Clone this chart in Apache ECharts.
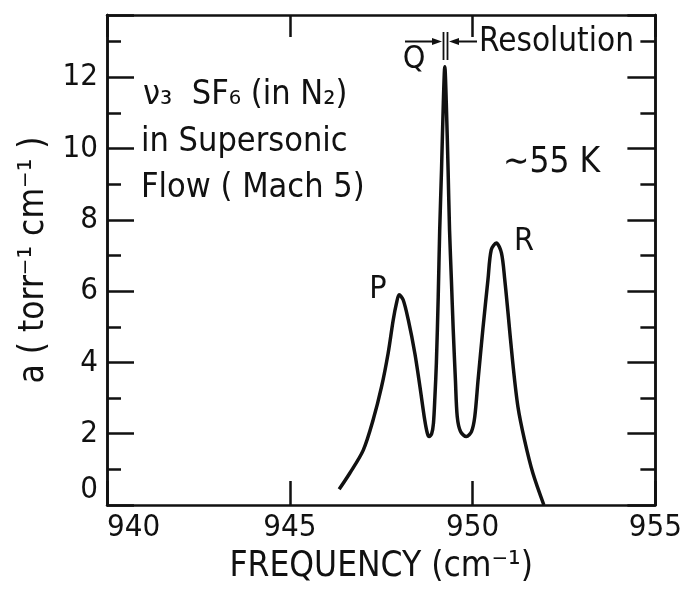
<!DOCTYPE html>
<html>
<head>
<meta charset="utf-8">
<script src="https://cdn.jsdelivr.net/npm/echarts@6/dist/echarts.min.js"></script>
<style>
  html, body { margin: 0; padding: 0; background: #fff; }
  #chart { width: 685px; height: 590px; }
</style>
</head>
<body>
<div id="chart"></div>
<script>
// frequency (cm-1) and absorption a (torr-1 cm-1)
const freq = [
  946.35, 946.64, 947.01, 947.28, 947.51, 947.69, 947.83, 947.92, 947.99, 948.10,
  948.24, 948.42, 948.56, 948.69, 948.76, 948.81, 948.88, 948.93, 948.97, 949.01,
  949.06, 949.10, 949.15, 949.20, 949.24, 949.28, 949.33, 949.37, 949.42, 949.47,
  949.53, 949.58, 949.67, 949.83, 949.97, 950.06, 950.15, 950.28, 950.42, 950.51,
  950.65, 950.79, 950.88, 950.97, 951.10, 951.24, 951.42, 951.65, 951.95
]
const absorb = [
  0.44, 0.89, 1.54, 2.39, 3.32, 4.26, 5.20, 5.67, 5.90, 5.76,
  5.20, 4.26, 3.32, 2.39, 2.02, 1.92, 2.00, 2.30, 3.05, 4.00,
  5.85, 7.70, 9.40, 11.3, 12.3, 11.3, 9.40, 7.70, 6.32, 4.92,
  3.51, 2.48, 2.06, 1.92, 2.06, 2.48, 3.51, 4.92, 6.32, 7.16,
  7.35, 7.07, 6.32, 5.38, 3.98, 2.76, 1.83, 0.89, 0.00
]
const xTicks = [940, 945, 950, 955]
const yLabels = [0, 2, 4, 6, 8, 10, 12]

const FONT = '"DejaVu Sans Condensed", "Liberation Sans Narrow", sans-serif'
const INK = '#111'

const chart = echarts.init(document.getElementById('chart'), null, { renderer: 'canvas' })

// y axes: one for long (even) ticks + labels, one for short (odd) ticks
function yAxisDef(position, step, tickLen, withLabels) {
  return {
    type: 'value',
    position: position,
    min: 0,
    max: 13.75,
    interval: step,
    axisLine: { show: true, lineStyle: { color: INK, width: 2.5 } },
    axisTick: { show: true, inside: true, length: tickLen, lineStyle: { color: INK, width: 2.5 } },
    splitLine: { show: false },
    axisLabel: {
      show: withLabels,
      margin: 9,
      color: INK,
      fontFamily: FONT,
      fontSize: 31,
      verticalAlignMinLabel: 'bottom',
      formatter: v => (yLabels.indexOf(v) >= 0 ? String(v) : '')
    }
  }
}

function xAxisDef(position, tickLen, withLabels) {
  return {
    type: 'value',
    position: position,
    min: xTicks[0],
    max: xTicks[xTicks.length - 1],
    interval: 5,
    axisLine: { show: true, onZero: false, lineStyle: { color: INK, width: 2.5 } },
    axisTick: { show: true, inside: true, length: tickLen, lineStyle: { color: INK, width: 2.5 } },
    splitLine: { show: false },
    axisLabel: {
      show: withLabels,
      margin: 7,
      color: INK,
      fontFamily: FONT,
      fontSize: 31,
      alignMinLabel: 'left'
    }
  }
}

const bottomAxis = xAxisDef('bottom', 24, true)
bottomAxis.name = 'FREQUENCY (cm⁻¹)'
bottomAxis.nameLocation = 'middle'
bottomAxis.nameGap = 44
bottomAxis.nameTextStyle = { color: INK, fontFamily: FONT, fontSize: 35 }

const leftAxis = yAxisDef('left', 2, 27, true)
leftAxis.name = 'a ( torr⁻¹ cm⁻¹ )'
leftAxis.nameLocation = 'middle'
leftAxis.nameRotate = 90
leftAxis.nameGap = 56
leftAxis.nameTextStyle = { color: INK, fontFamily: FONT, fontSize: 35 }

function label(text, x, y, size, align) {
  return {
    type: 'text',
    x: x,
    y: y,
    style: {
      text: text,
      fill: INK,
      font: size + 'px ' + FONT,
      align: align || 'left',
      verticalAlign: 'middle'
    }
  }
}

function seg(x1, y1, x2, y2, w) {
  return {
    type: 'line',
    shape: { x1: x1, y1: y1, x2: x2, y2: y2 },
    style: { stroke: INK, lineWidth: w || 2 }
  }
}

function head(points) {
  return { type: 'polygon', shape: { points: points }, style: { fill: INK } }
}

const option = {
  backgroundColor: '#fff',
  animation: false,
  grid: { left: 107, right: 29, top: 15, bottom: 85 },
  xAxis: [bottomAxis, xAxisDef('top', 22, false)],
  yAxis: [
    leftAxis,
    yAxisDef('left', 1, 14, false),
    yAxisDef('right', 2, 28, false),
    yAxisDef('right', 1, 15, false)
  ],
  series: [{
    type: 'line',
    xAxisIndex: 0,
    yAxisIndex: 0,
    data: freq.map((f, i) => [f, absorb[i]]),
    showSymbol: false,
    smooth: 0.3,
    lineStyle: { color: INK, width: 3.5 }
  }],
  graphic: [
    label('ν₃  SF₆ (in N₂)', 143, 95, 34),
    label('in Supersonic', 141, 142, 34),
    label('Flow ( Mach 5)', 141, 188, 34),
    label('∼55 K', 503, 163, 35),
    label('P', 378, 290, 32, 'center'),
    label('R', 524, 242, 32, 'center'),
    label('Q', 414, 60, 32, 'center'),
    label('Resolution', 479, 42, 33),
    // resolution marker
    seg(443.5, 32, 443.5, 60, 1.8),
    seg(447.5, 32, 447.5, 60, 1.8),
    seg(405, 41.5, 434, 41.5, 2),
    head([[432, 38], [442, 41.5], [432, 45]]),
    seg(458, 41.5, 477, 41.5, 2),
    head([[459, 38], [449, 41.5], [459, 45]])
  ]
}

chart.setOption(option)
</script>
</body>
</html>
